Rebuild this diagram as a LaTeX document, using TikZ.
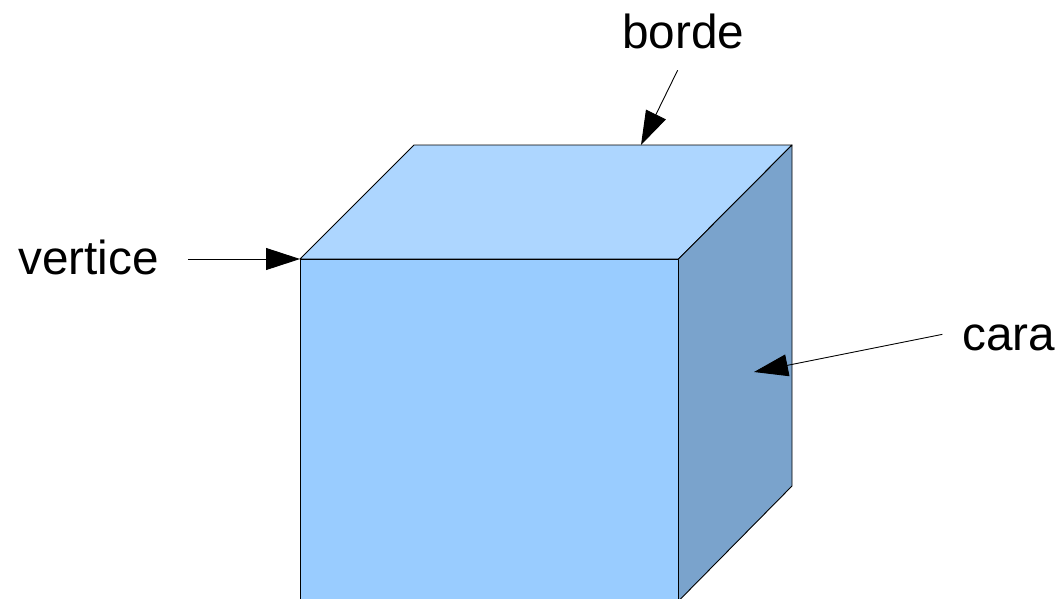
\documentclass[tikz,border=0pt]{standalone}
\usepackage{fontspec}
\setmainfont{Liberation Sans}
\definecolor{cubefront}{RGB}{153, 204, 255}
\definecolor{cubetop}{RGB}{173, 214, 255}
\definecolor{cubeside}{RGB}{122, 163, 204}
\usetikzlibrary{arrows.meta, positioning}

\begin{document}
\begin{tikzpicture}[
        x=1pt, y=-1pt,
        face/.style={draw=black, line width=0.9pt, line join=round},
        lbl/.style={font=\fontsize{47.7}{50}\selectfont, inner sep=0pt, anchor=base west},
        pointer/.style={draw=black, line width=0.9pt, -{Triangle[length=34pt, width=22pt]}}
      ]
      \useasboundingbox (0,0) rectangle (1062,598);
      % cube
      \coordinate (frontTL) at (300,259);
      \coordinate (frontTR) at (678.5,259);
      \coordinate (frontBR) at (678.5,601);
      \coordinate (backTL) at (414,145);
      \coordinate (backTR) at (792,145);
      \coordinate (backBR) at (792,486);
      \filldraw[face, fill=cubetop] (frontTL) -- (backTL) -- (backTR) -- (frontTR) -- cycle;
      \filldraw[face, fill=cubeside] (frontTR) -- (backTR) -- (backBR) -- (frontBR) -- cycle;
      \filldraw[face, fill=cubefront] (frontTL) rectangle (frontBR);
      % labels
      \node[lbl] (borde) at (622,48) {borde};
      \node[lbl] (vertice) at (18,274) {vertice};
      \node[lbl] (cara) at (962,350) {cara};
      % pointers
      \coordinate (bordeEnd) at (641,145);
      \coordinate (caraEnd) at (754,372);
      \draw[pointer, shorten <=24pt] ([xshift=5pt]borde.south) -- (bordeEnd);
      \draw[pointer, shorten <=29pt] (vertice.east |- frontTL) -- (frontTL);
      \draw[pointer, shorten <=20pt] ([yshift=7pt]cara.west) -- (caraEnd);
\end{tikzpicture}
\end{document}
